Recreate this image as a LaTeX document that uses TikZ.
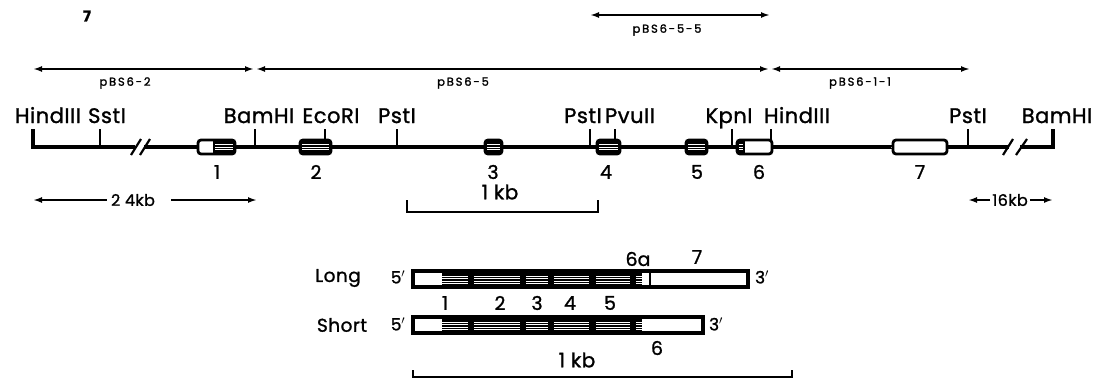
\documentclass[tikz,border=0pt]{standalone}
\usepackage{fontspec}
\setmainfont{Poppins}[FakeBold=0.8]
\newfontfamily\sitefont{Poppins}[LetterSpace=2.5,FakeBold=1.2]
\newfontfamily\clonefont{Poppins}[LetterSpace=16,FakeBold=1.5]
\newfontfamily\numfont{Poppins}[FakeBold=1.2]
\usetikzlibrary{arrows.meta}
\tikzset{
  dna/.style={line width=3.2pt},
  cut/.style={line width=2.4pt},
  sitelbl/.style={font=\sitefont\fontsize{21}{21}\selectfont, anchor=base, inner sep=0pt},
  exnum/.style={font=\numfont\fontsize{19}{19}\selectfont, inner sep=0pt},
  clonelbl/.style={font=\clonefont\fontsize{11.5}{11.5}\selectfont, inner sep=0pt},
  clone/.style={line width=1.8pt, {Latex[length=9pt,width=6pt]}-{Latex[length=9pt,width=6pt]}},
  kbarrow/.style={line width=1.8pt, -{Latex[length=9pt,width=6pt]}},
  kblbl/.style={font=\sitefont\fontsize{16}{16}\selectfont, inner sep=0pt},
  scalebar/.style={line width=1.5pt},
  rnalbl/.style={font=\sitefont\fontsize{18.5}{18.5}\selectfont, inner sep=0pt},
  endlbl/.style={font=\numfont\fontsize{17}{17}\selectfont, inner sep=0pt},
}
\newcommand\myexon[4]{%
  \fill[white, rounded corners=3pt] (#1,140) rectangle (#2,154);
  \fill[black] (#3,140) rectangle (#4,154);
  \foreach \yy in {144.5,147,149.5} \draw[white, line width=0.9pt] ({#3+2},\yy) -- ({#4-2},\yy);
  \draw[line width=2.8pt, rounded corners=3pt] (#1,140) rectangle (#2,154);
}
\newcommand\mystripes[1]{% y top
  \foreach \xa/\xb in {441/468,474/520,526/548,554/589,596/630,636/642}{
    \foreach \yy in {5,7.5,10,12.5} \draw[white, line width=0.9pt] (\xa,{#1+\yy}) -- (\xb,{#1+\yy});
  }
}
\begin{document}
\begin{tikzpicture}[x=1pt,y=-1pt]
\useasboundingbox (0,0) rectangle (1099,380);

% panel mark
\node[font=\bfseries\fontsize{15}{15}\selectfont, inner sep=0pt] (panel) at (87,16) {7};

% clone arrows
\coordinate (p55a) at (590,15); \coordinate (p55b) at (770,15);
\draw[clone] (p55a) -- (p55b);
\node[clonelbl] (p55l) at (667,30) {pBS6-5-5};

\coordinate (p2a) at (33,69); \coordinate (p2b) at (254,69);
\coordinate (p5a) at (256,69); \coordinate (p5b) at (769,69);
\coordinate (p11a) at (771,69); \coordinate (p11b) at (970,69);
\draw[clone] (p2a) -- (p2b);
\draw[clone] (p5a) -- (p5b);
\draw[clone] (p11a) -- (p11b);
\node[clonelbl] (p2l) at (125,83) {pBS6-2};
\node[clonelbl] (p5l) at (463,83) {pBS6-5};
\node[clonelbl] (p11l) at (860,83) {pBS6-1-1};

% main line with breaks
\coordinate (Lend) at (33,129);
\coordinate (Lc) at (33,147);
\coordinate (b1a) at (135,147); \coordinate (b1b) at (144,147);
\coordinate (b2a) at (1009,147); \coordinate (b2b) at (1020,147);
\coordinate (Rc) at (1053,147);
\coordinate (Rend) at (1053,129);
\draw[dna, line join=miter] (Lend) -- (Lc) -- (b1a);
\draw[dna] (b1b) -- (b2a);
\draw[dna, line join=miter] (b2b) -- (Rc) -- (Rend);
\draw[line width=2.2pt] (131,155) -- (141,139);
\draw[line width=2.2pt] (140,155) -- (150,139);
\draw[line width=2.2pt] (1003,155) -- (1013,139);
\draw[line width=2.2pt] (1016,155) -- (1027,139);

% site ticks
\foreach \nm/\xx/\yb in {sst/100/147, bam1/255/147, eco/325/140, pst1/397/147, pst2/590/147, pvu/615/140, kpn/732/147, hin2/771/140, pst3/968/147}{
  \coordinate (\nm t) at (\xx,129);
  \coordinate (\nm b) at (\xx,\yb);
  \draw[cut] (\nm t) -- (\nm b);
}

% exons
\myexon{198}{235}{213}{235}
\myexon{300}{331}{300}{331}
\myexon{485}{502}{485}{502}
\myexon{597}{620}{597}{620}
\myexon{686}{707}{686}{707}
\myexon{737}{772}{737}{745}
\myexon{893}{947}{893}{893}

% site labels
\node[sitelbl] (lh1) at (48,123) {HindIII};
\node[sitelbl] (ls1) at (107,123) {SstI};
\node[sitelbl] (lb1) at (259,123) {BamHI};
\node[sitelbl] (le1) at (331,123) {EcoRI};
\node[sitelbl] (lp1) at (397,123) {PstI};
\node[sitelbl] (lp2) at (583,123) {PstI};
\node[sitelbl] (lv1) at (630,123) {PvuII};
\node[sitelbl] (lk1) at (729,123) {KpnI};
\node[sitelbl] (lh2) at (797,123) {HindIII};
\node[sitelbl] (lp3) at (968,123) {PstI};
\node[sitelbl] (lb2) at (1057,123) {BamHI};

% exon numbers
\node[exnum] (e1) at (217,172) {1};
\node[exnum] (e2) at (316,172) {2};
\node[exnum] (e3) at (493,172) {3};
\node[exnum] (e4) at (606,172) {4};
\node[exnum] (e5) at (697,172) {5};
\node[exnum] (e6) at (759,172) {6};
\node[exnum] (e7) at (920,172) {7};

% 2.4 kb
\node[kblbl] (k24) at (133,200) {2 4kb};
\coordinate (k24l) at (33,200); \coordinate (k24r) at (257,200);
\draw[kbarrow] (k24.west) ++(-4,0) -- (k24l);
\draw[kbarrow] (k24.east) ++(16,0) -- (k24r);

% 1.6 kb
\node[kblbl] (k16) at (1010,200) {16kb};
\coordinate (k16l) at (968,200); \coordinate (k16r) at (1053,200);
\draw[kbarrow] (k16.west) ++(-2,0) -- (k16l);
\draw[kbarrow] (k16.east) ++(2,0) -- (k16r);

% 1 kb scale (genomic)
\coordinate (s1a) at (407,200); \coordinate (s1b) at (407,212);
\coordinate (s1c) at (598,212); \coordinate (s1d) at (598,200);
\draw[scalebar] (s1a) -- (s1b) -- (s1c) -- (s1d);
\node[kblbl, font=\sitefont\fontsize{20}{20}\selectfont] (s1l) at (500,192) {1 kb};

% mRNAs
\node[rnalbl] (long) at (338,278) {Long};
\node[rnalbl] (short) at (342,325) {Short};
\node[endlbl] (l5) at (398,277) {5$'$};
\node[endlbl] (l3) at (762,277) {3$'$};
\node[endlbl] (s5) at (398,324) {5$'$};
\node[endlbl] (s3) at (716,324) {3$'$};

% Long box
\fill[white] (413,271) rectangle (748,287);
\fill[black] (442,271) rectangle (642,287);
\mystripes{271}
\draw[line width=2.4pt] (650,271) -- (650,287);
\draw[line width=3.4pt] (413,271) rectangle (748,287);

% Short box
\fill[white] (413,317) rectangle (703,333);
\fill[black] (442,317) rectangle (642,333);
\mystripes{317}
\draw[line width=3.4pt] (413,317) rectangle (703,333);

\node[exnum] (m6a) at (638,259) {6a};
\node[exnum] (m7) at (697,257) {7};
\node[exnum] (m1) at (445,303) {1};
\node[exnum] (m2) at (500,303) {2};
\node[exnum] (m3) at (537,303) {3};
\node[exnum] (m4) at (570,303) {4};
\node[exnum] (m5) at (610,303) {5};
\node[exnum] (m6) at (657,348) {6};

% 1 kb scale (mRNA)
\coordinate (s2a) at (413,370); \coordinate (s2b) at (413,377);
\coordinate (s2c) at (792,377); \coordinate (s2d) at (792,370);
\draw[scalebar] (s2a) -- (s2b) -- (s2c) -- (s2d);
\node[kblbl, font=\sitefont\fontsize{20}{20}\selectfont] (s2l) at (577,360) {1 kb};
\end{tikzpicture}
\end{document}
